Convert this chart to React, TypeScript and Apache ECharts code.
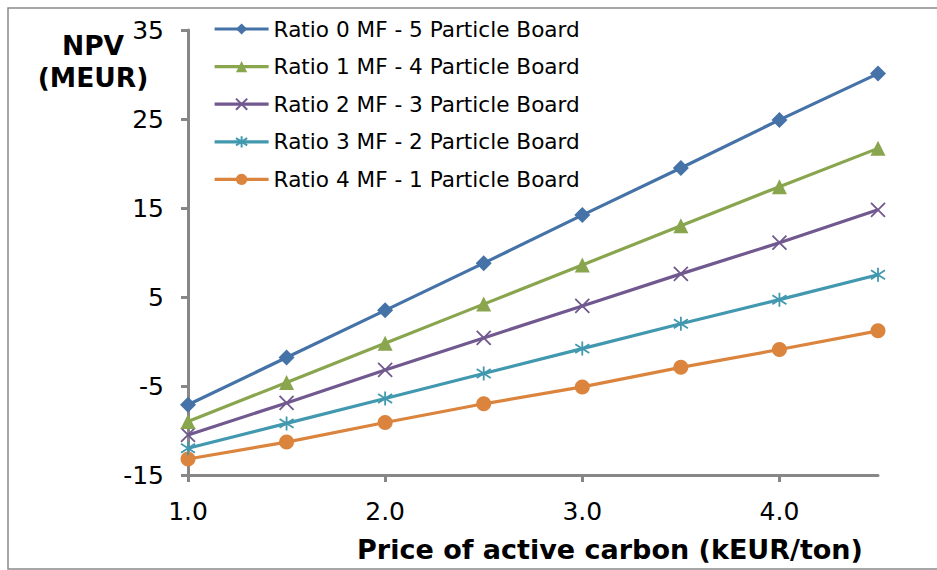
import React, { useEffect, useRef } from "react";
import * as echarts from "echarts";

const prices = [1.0, 1.5, 2.0, 2.5, 3.0, 3.5, 4.0, 4.5];
const xTicks = [1, 2, 3, 4];
const yTicks = [-15, -5, 5, 15, 25, 35];
const seriesNames = [
  "Ratio 0 MF - 5 Particle Board",
  "Ratio 1 MF - 4 Particle Board",
  "Ratio 2 MF - 3 Particle Board",
  "Ratio 3 MF - 2 Particle Board",
  "Ratio 4 MF - 1 Particle Board",
];
const ratio0 = [-7.1, -1.8, 3.5, 8.8, 14.2, 19.5, 24.9, 30.1];
const ratio1 = [-9.0, -4.6, -0.2, 4.2, 8.6, 13.0, 17.4, 21.7];
const ratio2 = [-10.5, -6.9, -3.2, 0.4, 4.0, 7.6, 11.1, 14.8];
const ratio3 = [-12.0, -9.2, -6.4, -3.6, -0.8, 2.0, 4.7, 7.5];
const ratio4 = [-13.2, -11.3, -9.1, -7.0, -5.1, -2.9, -0.9, 1.2];
const allValues = [ratio0, ratio1, ratio2, ratio3, ratio4];

const colors = ["#4572A7", "#89A54E", "#71588F", "#4198AF", "#DB843D"];
const symbols = [
  "diamond",
  "triangle",
  "path://M0,0L10,10M10,0L0,10",
  "path://M5,0L5,10M0.8,1.8L9.2,8.2M9.2,1.8L0.8,8.2",
  "circle",
];
const symbolSizes = [16, 15, 14, 14, 15];

const FONT = "'DejaVu Sans', Verdana, sans-serif";

export default function App() {
  const ref = useRef<HTMLDivElement>(null);

  useEffect(() => {
    if (!ref.current) return;
    const chart = echarts.init(ref.current, undefined, { renderer: "svg" });
    const series = allValues.map((vals, i) => {
      const isPath = i === 2 || i === 3;
      return {
        name: seriesNames[i],
        type: "line",
        data: prices.map((p, j) => [p, vals[j]]),
        symbol: symbols[i],
        symbolSize: symbolSizes[i],
        showAllSymbol: true,
        lineStyle: { color: colors[i], width: 3.2 },
        itemStyle: isPath
          ? { color: "none", borderColor: colors[i], borderWidth: 1.8 }
          : { color: colors[i], borderWidth: 0 },
        emphasis: { disabled: true },
        z: 10 - i,
      };
    });
    chart.setOption({
      animation: false,
      color: colors,
      textStyle: { fontFamily: FONT },
      grid: { left: 188, top: 30, width: 690, height: 445, containLabel: false },
      legend: {
        left: 213,
        top: 18,
        padding: 0,
        orient: "vertical",
        itemWidth: 54,
        itemHeight: 14,
        itemGap: 15.6,
        lineStyle: { width: 3.2 },
        textStyle: { fontSize: 21.6, color: "#000", fontFamily: FONT },
        data: seriesNames,
      },
      xAxis: {
        type: "value",
        min: 1,
        max: 4.5,
        splitLine: { show: false },
        axisLine: { onZero: false, lineStyle: { color: "#878787", width: 3 } },
        axisTick: { show: true, length: 7, customValues: xTicks, lineStyle: { color: "#878787", width: 3 } },
        axisLabel: {
          customValues: xTicks,
          formatter: (v: number) => v.toFixed(1),
          fontSize: 25,
          color: "#000",
          margin: 24,
          fontFamily: FONT,
        },
      },
      yAxis: {
        type: "value",
        min: -15,
        max: 35,
        splitLine: { show: false },
        axisLine: { show: true, onZero: false, lineStyle: { color: "#878787", width: 3 } },
        axisTick: { show: true, length: 7, customValues: yTicks, lineStyle: { color: "#878787", width: 3 } },
        axisLabel: {
          customValues: yTicks,
          fontSize: 25,
          color: "#000",
          margin: 24,
          fontFamily: FONT,
        },
      },
      graphic: [
        {
          type: "rect",
          shape: { x: 8, y: 8, width: 960, height: 561 },
          style: { fill: "none", stroke: "#8a8a8a", lineWidth: 1.5 },
          silent: true,
        },
        {
          type: "text",
          x: 93,
          y: 29,
          style: {
            text: "NPV\n(MEUR)",
            font: `bold 26.5px ${FONT}`,
            fill: "#000",
            textAlign: "center",
            lineHeight: 32,
          },
        },
        {
          type: "text",
          x: 610,
          y: 549,
          style: {
            text: "Price of active carbon (kEUR/ton)",
            font: `bold 27px ${FONT}`,
            fill: "#000",
            textAlign: "center",
            textVerticalAlign: "middle",
          },
        },
      ],
      series,
    });
    return () => chart.dispose();
  }, []);

  return (
    <div
      ref={ref}
      style={{ position: "absolute", left: 0, top: 0, width: 937, height: 570, background: "#fff" }}
    />
  );
}
